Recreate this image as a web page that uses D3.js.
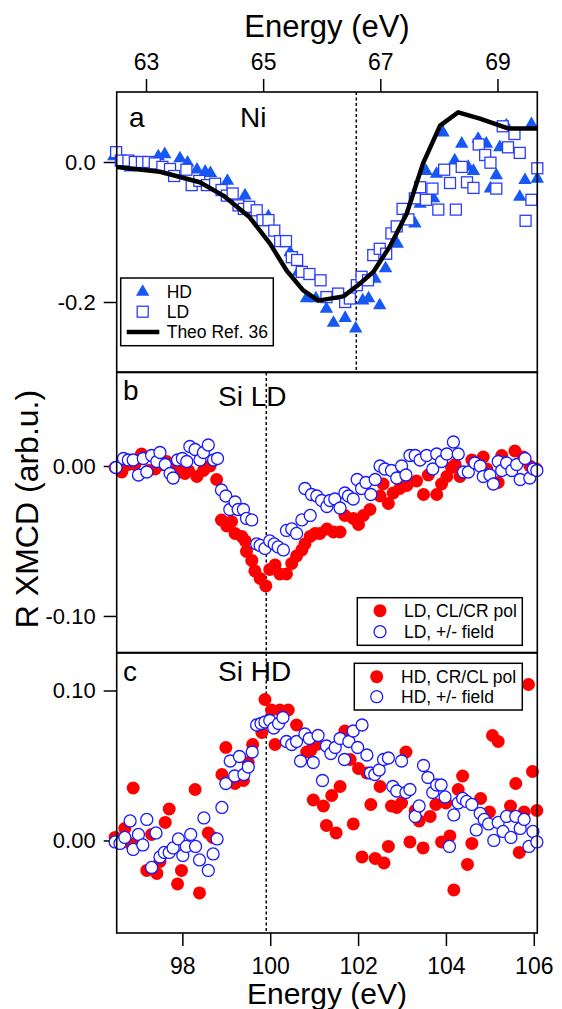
<!DOCTYPE html>
<html>
<head>
<meta charset="utf-8">
<script src="https://cdn.jsdelivr.net/npm/d3@7"></script>
<style>
body { margin: 0; background: #fff; }
</style>
</head>
<body>
<svg></svg>
<script>
// Ni M edge (panel a): [energy eV, R XMCD]
const niTheo = [[62.5,-0.007],[63.24,-0.014],[63.92,-0.029],[64.32,-0.048],[64.77,-0.079],[65.12,-0.117],
	[65.40,-0.155],[65.68,-0.183],[65.94,-0.198],[66.37,-0.192],[66.65,-0.174],[66.88,-0.157],[67.16,-0.121],
	[67.45,-0.074],[67.73,-0.002],[68.02,0.052],[68.33,0.071],[68.70,0.062],[69.18,0.048],[69.68,0.048]];

const niHD = [[62.45,0.008],[62.73,-0.008],[63.21,0.008],[63.32,0.011],[63.58,0.005],[63.71,-0.001],[63.87,-0.011],
	[64.01,-0.014],[64.10,-0.016],[64.39,-0.027],[64.69,-0.048],[65.09,-0.078],[65.46,-0.129],[65.60,-0.157],
	[65.74,-0.195],[65.90,-0.195],[66.08,-0.210],[66.20,-0.230],[66.40,-0.223],[66.58,-0.238],[66.70,-0.198],
	[66.80,-0.195],[66.91,-0.167],[66.99,-0.205],[67.09,-0.152],[67.29,-0.117],[67.59,-0.088],[67.68,-0.060],
	[67.78,-0.013],[67.91,-0.052],[67.96,-0.017],[68.07,0.042],[68.27,0.002],[68.39,0.026],[68.50,-0.007],
	[68.59,-0.013],[68.67,0.033],[68.81,0.026],[68.88,-0.038],[68.98,-0.019],[69.04,0.021],[69.15,0.052],
	[69.38,-0.050],[69.47,-0.026],[69.58,0.054],[69.68,-0.024]];

const niLD = [[62.49,0.014],[62.57,0.002],[62.70,0.002],[62.81,0.000],[62.93,0.000],[63.04,0.000],[63.15,-0.002],
	[63.28,-0.007],[63.41,-0.010],[63.48,-0.020],[63.69,-0.011],[63.78,-0.033],[63.91,-0.027],[64.04,-0.033],
	[64.18,-0.031],[64.29,-0.040],[64.38,-0.048],[64.48,-0.045],[64.58,-0.062],[64.67,-0.067],[64.76,-0.064],
	[64.89,-0.069],[64.99,-0.083],[65.09,-0.083],[65.19,-0.098],[65.29,-0.113],[65.39,-0.113],[65.49,-0.136],
	[65.58,-0.140],[65.66,-0.157],[65.79,-0.160],[65.98,-0.169],[66.08,-0.193],[66.28,-0.188],[66.40,-0.200],
	[66.48,-0.195],[66.60,-0.176],[66.68,-0.164],[66.79,-0.169],[66.88,-0.133],[66.99,-0.124],[67.10,-0.131],
	[67.19,-0.102],[67.28,-0.092],[67.38,-0.067],[67.48,-0.082],[67.59,-0.052],[67.68,-0.036],[67.78,-0.054],
	[67.89,-0.038],[67.99,-0.068],[68.09,-0.011],[68.19,-0.030],[68.29,-0.068],[68.39,-0.007],[68.48,-0.029],
	[68.59,-0.037],[68.68,0.025],[68.79,0.010],[68.88,-0.001],[68.98,-0.038],[69.09,0.051],[69.18,0.021],
	[69.29,0.040],[69.38,0.013],[69.48,-0.084],[69.58,-0.054],[69.68,-0.009]];

// Si L edge, LD (panel b)
const siLDpol = [[96.47,-0.001],[96.62,-0.004],[96.77,0.001],[96.92,0.001],[97.07,0.008],[97.23,-0.003],[97.38,-0.002],
	[97.53,0.001],[97.64,0.003],[97.76,-0.003],[97.95,-0.004],[98.06,-0.005],[98.14,-0.003],[98.33,-0.007],
	[98.48,-0.003],[98.63,0.000],[98.78,-0.009],[98.89,-0.036],[99.01,-0.040],[99.12,-0.037],[99.20,-0.045],
	[99.35,-0.047],[99.43,-0.050],[99.46,-0.057],[99.58,-0.063],[99.65,-0.070],[99.77,-0.075],[99.90,-0.080],
	[99.99,-0.069],[100.11,-0.066],[100.22,-0.072],[100.37,-0.072],[100.49,-0.065],[100.60,-0.060],[100.72,-0.056],
	[100.79,-0.052],[100.91,-0.047],[101.02,-0.045],[101.13,-0.045],[101.29,-0.042],[101.44,-0.044],[101.59,-0.044],
	[101.70,-0.033],[101.89,-0.035],[102.01,-0.039],[102.12,-0.033],[102.27,-0.029],[102.50,-0.020],[102.57,-0.012],
	[102.69,-0.025],[102.80,-0.018],[102.95,-0.015],[103.11,-0.013],[103.33,-0.010],[103.49,-0.019],[103.60,-0.006],
	[103.79,-0.019],[103.90,-0.012],[104.02,-0.007],[104.13,-0.001],[104.21,0.001],[104.32,-0.007],[104.59,0.004],
	[104.85,0.006],[104.93,-0.002],[105.19,-0.011],[105.27,0.007],[105.50,-0.002],[105.57,0.010],[105.76,0.006],
	[105.91,0.000],[106.06,-0.002]];

const siLDfield = [[96.49,-0.001],[96.66,0.005],[96.77,0.004],[96.88,0.004],[97.00,-0.006],[97.11,0.005],[97.19,-0.004],
	[97.30,0.007],[97.42,0.003],[97.49,0.009],[97.61,0.001],[97.72,-0.005],[97.79,-0.008],[97.89,0.004],[98.00,0.005],
	[98.10,0.003],[98.17,0.013],[98.29,0.011],[98.40,0.004],[98.48,0.009],[98.59,0.014],[98.71,0.004],[98.80,0.005],
	[98.89,-0.016],[98.99,-0.020],[99.08,-0.029],[99.20,-0.024],[99.27,-0.029],[99.39,-0.029],[99.46,-0.035],
	[99.58,-0.036],[99.69,-0.052],[99.77,-0.053],[99.88,-0.055],[99.99,-0.050],[100.09,-0.052],[100.18,-0.054],
	[100.30,-0.056],[100.37,-0.043],[100.49,-0.042],[100.60,-0.045],[100.72,-0.036],[100.79,-0.015],[100.91,-0.033],
	[100.94,-0.019],[101.06,-0.020],[101.17,-0.023],[101.29,-0.027],[101.36,-0.023],[101.47,-0.022],[101.59,-0.028],
	[101.70,-0.018],[101.78,-0.020],[101.89,-0.022],[101.98,-0.009],[102.08,-0.015],[102.18,-0.011],[102.29,-0.019],
	[102.39,-0.009],[102.50,0.000],[102.61,-0.002],[102.76,-0.003],[102.88,-0.008],[102.99,0.000],[103.09,-0.006],
	[103.18,0.007],[103.30,0.007],[103.41,0.004],[103.56,0.007],[103.70,-0.002],[103.79,0.008],[103.90,0.003],
	[104.02,0.008],[104.17,0.016],[104.28,0.008],[104.40,-0.004],[104.51,-0.004],[104.66,0.002],[104.78,0.000],
	[104.85,-0.007],[105.00,-0.006],[105.08,-0.012],[105.19,0.003],[105.27,-0.003],[105.38,0.002],[105.50,-0.003],
	[105.61,0.001],[105.69,-0.009],[105.80,0.005],[105.91,-0.008],[105.99,-0.002],[106.07,-0.003]];

// Si L edge, HD (panel c)
const siHDpol = [[96.47,0.002],[96.69,0.008],[96.81,-0.002],[96.88,0.035],[97.00,-0.001],[97.19,-0.020],[97.30,0.004],
	[97.42,-0.022],[97.49,-0.014],[97.61,0.012],[97.70,0.021],[97.89,-0.029],[97.98,-0.020],[98.29,0.034],[98.39,-0.035],
	[98.59,0.005],[98.69,0.002],[98.90,0.044],[98.99,0.062],[99.20,0.038],[99.39,0.040],[99.50,0.052],[99.60,0.064],
	[99.81,0.072],[99.88,0.094],[100.03,0.087],[100.11,0.064],[100.22,0.087],[100.41,0.087],[100.60,0.077],
	[100.83,0.059],[100.92,0.060],[100.98,0.027],[101.06,0.064],[101.21,0.023],[101.28,0.010],[101.40,0.030],
	[101.50,0.005],[101.59,0.036],[101.70,0.073],[101.82,0.054],[101.89,0.011],[102.01,0.048],[102.09,-0.011],
	[102.20,0.045],[102.29,0.024],[102.39,-0.012],[102.50,0.036],[102.59,-0.015],[102.69,-0.004],[102.76,0.023],
	[102.88,0.022],[102.99,0.025],[103.09,0.059],[103.18,-0.001],[103.30,0.020],[103.39,0.013],[103.48,-0.005],
	[103.64,0.016],[103.77,0.024],[103.90,-0.001],[104.00,0.025],[104.09,0.003],[104.18,-0.033],[104.28,0.034],
	[104.38,0.043],[104.49,-0.016],[104.59,-0.002],[104.79,0.028],[104.99,0.019],[105.06,0.070],[105.19,0.066],
	[105.47,0.023],[105.59,0.038],[105.67,-0.008],[105.78,0.019],[105.88,0.104],[105.97,0.046],[106.07,0.020]];

const siHDfield = [[96.47,-0.001],[96.58,-0.002],[96.69,0.002],[96.81,0.013],[96.88,-0.006],[97.00,0.004],[97.10,-0.003],
	[97.19,0.014],[97.30,-0.018],[97.40,0.005],[97.49,-0.011],[97.59,-0.008],[97.70,-0.008],[97.79,-0.005],[97.91,0.001],
	[98.01,-0.010],[98.09,-0.004],[98.19,0.004],[98.30,-0.004],[98.39,-0.013],[98.49,0.015],[98.59,-0.020],[98.70,-0.009],
	[98.79,0.001],[98.90,0.022],[98.99,0.038],[99.09,0.053],[99.19,0.043],[99.30,0.056],[99.40,0.044],[99.50,0.049],
	[99.59,0.059],[99.69,0.077],[99.79,0.078],[99.88,0.079],[99.99,0.080],[100.08,0.075],[100.19,0.078],[100.29,0.082],
	[100.37,0.066],[100.49,0.064],[100.60,0.066],[100.69,0.053],[100.79,0.071],[100.89,0.068],[100.98,0.052],
	[101.09,0.070],[101.19,0.040],[101.28,0.063],[101.38,0.058],[101.48,0.062],[101.59,0.068],[101.69,0.054],
	[101.79,0.066],[101.89,0.073],[101.99,0.062],[102.09,0.077],[102.20,0.057],[102.28,0.045],[102.38,0.044],
	[102.48,0.047],[102.58,0.054],[102.69,0.055],[102.79,0.036],[102.88,0.033],[102.99,0.053],[103.09,0.032],
	[103.18,0.034],[103.30,0.016],[103.39,0.023],[103.49,0.050],[103.59,0.042],[103.70,0.032],[103.79,0.037],
	[103.89,0.037],[103.98,0.029],[104.08,-0.004],[104.18,0.017],[104.28,0.025],[104.38,0.028],[104.47,0.026],
	[104.59,0.024],[104.69,0.007],[104.78,0.018],[104.87,0.014],[104.97,0.011],[105.09,0.000],[105.19,0.012],
	[105.30,0.006],[105.38,0.016],[105.48,0.002],[105.59,0.016],[105.69,0.008],[105.78,0.014],[105.89,-0.004],
	[105.98,0.006],[106.07,-0.001]];

const topTicks = [63, 65, 67, 69],
	bottomTicks = [98, 100, 102, 104, 106],
	yTicksA = [0, -0.2],
	yTicksB = [0, -0.1],
	yTicksC = [0.1, 0];

const niEdge = 66.59, siEdge = 99.91;

const font = '"Liberation Sans", Arial, Helvetica, sans-serif';
const blueTri = '#1558f5', blueSq = '#2a3dff', blueCirc = '#1a1aff', red = '#ff0000';

const svg = d3.select('svg')
	.attr('width', 562)
	.attr('height', 1009)
	.style('font-family', font);

const left = 116.7, right = 537.3;
const tops = [92, 372.5, 653], panelH = 280;

const xNi = d3.scaleLinear().domain([62.5, 69.68]).range([left, right]);
const xSi = d3.scaleLinear().domain([96.505, 106.08]).range([left, right]);
const yA = d3.scaleLinear().domain([-0.3, 0.1]).range([372, 92]);
const yB = d3.scaleLinear().domain([-0.1247, 0.062]).range([653, 373]);
const yC = d3.scaleLinear().domain([-0.0617, 0.125]).range([933, 653]);

const styleAxis = (g, size) => {
	g.select('.domain').remove();
	g.attr('font-family', font).attr('font-size', size);
	g.selectAll('.tick line').attr('stroke', '#000').attr('stroke-width', 1.5);
	g.selectAll('.tick text').attr('fill', '#000');
};

// y axes
[[yA, yTicksA, 1], [yB, yTicksB, 2], [yC, yTicksC, 2]].forEach(([y, ticks, dec]) => {
	svg.append('g')
		.attr('transform', `translate(${left},0)`)
		.call(d3.axisLeft(y).tickValues(ticks).tickSize(13).tickPadding(8)
			.tickFormat(d => d.toFixed(dec)))
		.call(g => styleAxis(g, 22));
});

// top axis (Ni)
svg.append('g')
	.attr('transform', `translate(0,${tops[0]})`)
	.call(d3.axisTop(xNi).tickValues(topTicks).tickSize(13).tickPadding(9))
	.call(g => styleAxis(g, 23));

// bottom axis (Si)
svg.append('g')
	.attr('transform', `translate(0,933)`)
	.call(d3.axisBottom(xSi).tickValues(bottomTicks).tickSize(13).tickPadding(12))
	.call(g => styleAxis(g, 23));

// axis titles
svg.append('text')
	.attr('x', (left + right) / 2).attr('y', 37)
	.attr('text-anchor', 'middle').attr('font-size', 31)
	.text('Energy (eV)');

svg.append('text')
	.attr('x', (left + right) / 2).attr('y', 1004)
	.attr('text-anchor', 'middle').attr('font-size', 30)
	.text('Energy (eV)');

svg.append('text')
	.attr('transform', 'translate(38,509) rotate(-90)')
	.attr('text-anchor', 'middle').attr('font-size', 32)
	.text('R XMCD (arb.u.)');

// dashed edge markers
svg.append('line')
	.attr('x1', xNi(niEdge)).attr('x2', xNi(niEdge))
	.attr('y1', tops[0]).attr('y2', tops[0] + panelH)
	.attr('stroke', '#000').attr('stroke-width', 1.5).attr('stroke-dasharray', '3,2.5');

svg.append('line')
	.attr('x1', xSi(siEdge)).attr('x2', xSi(siEdge))
	.attr('y1', tops[1]).attr('y2', 933)
	.attr('stroke', '#000').attr('stroke-width', 1.5).attr('stroke-dasharray', '3,2.5');

// panel a
const triangle = d3.symbol(d3.symbolTriangle, 78);

svg.append('g').selectAll('path')
	.data(niHD)
	.enter().append('path')
	.attr('d', triangle)
	.attr('transform', d => `translate(${xNi(d[0])},${yA(d[1])})`)
	.attr('fill', blueTri);

svg.append('g').selectAll('rect')
	.data(niLD)
	.enter().append('rect')
	.attr('x', d => xNi(d[0]) - 5.5)
	.attr('y', d => yA(d[1]) - 5.5)
	.attr('width', 11).attr('height', 11)
	.attr('fill', '#fff')
	.attr('stroke', blueSq).attr('stroke-width', 1.3);

const lineGenerator = d3.line()
	.x(d => xNi(d[0]))
	.y(d => yA(d[1]));

svg.append('path')
	.attr('d', lineGenerator(niTheo))
	.attr('fill', 'none')
	.attr('stroke', '#000')
	.attr('stroke-width', 4.5)
	.attr('stroke-linejoin', 'round');

// panels b and c
const drawCircles = (data, y, filled) => {
	svg.append('g').selectAll('circle')
		.data(data)
		.enter().append('circle')
		.attr('cx', d => xSi(d[0]))
		.attr('cy', d => y(d[1]))
		.attr('r', filled ? 6.5 : 6)
		.attr('fill', filled ? red : '#fff')
		.attr('stroke', filled ? 'none' : blueCirc)
		.attr('stroke-width', 1.3);
};

drawCircles(siLDpol, yB, true);
drawCircles(siLDfield, yB, false);
drawCircles(siHDpol, yC, true);
drawCircles(siHDfield, yC, false);

// frames
tops.forEach(t => {
	svg.append('rect')
		.attr('x', left).attr('y', t)
		.attr('width', right - left).attr('height', panelH)
		.attr('fill', 'none')
		.attr('stroke', '#000').attr('stroke-width', 1.6);
});

// panel labels
const labels = [
	['a', 129, 127], ['Ni', 240, 127],
	['b', 123, 400], ['Si LD', 218, 406],
	['c', 123, 681], ['Si HD', 218, 681]
];
svg.append('g').selectAll('text')
	.data(labels)
	.enter().append('text')
	.attr('x', d => d[1])
	.attr('y', d => d[2])
	.attr('font-size', 28)
	.text(d => d[0]);

// legends
const legendBox = (x, y, w, h) => svg.append('rect')
	.attr('x', x).attr('y', y).attr('width', w).attr('height', h)
	.attr('fill', '#fff').attr('stroke', '#000').attr('stroke-width', 1.5);

const legendText = (x, y, s) => svg.append('text')
	.attr('x', x).attr('y', y).attr('dy', '0.35em')
	.attr('font-size', 17.5).text(s);

legendBox(120.7, 278, 152.6, 67.7);
svg.append('path').attr('d', triangle)
	.attr('transform', 'translate(142.7,292)').attr('fill', blueTri);
legendText(166.7, 291.7, 'HD');
svg.append('rect').attr('x', 137.2).attr('y', 306.2).attr('width', 11).attr('height', 11)
	.attr('fill', '#fff').attr('stroke', blueSq).attr('stroke-width', 1.3);
legendText(166.7, 311.7, 'LD');
svg.append('line').attr('x1', 126.7).attr('x2', 159.3).attr('y1', 332).attr('y2', 332)
	.attr('stroke', '#000').attr('stroke-width', 4.5);
legendText(166.7, 332, 'Theo Ref. 36');

legendBox(357.3, 597.7, 165, 47.6);
svg.append('circle').attr('cx', 380).attr('cy', 610.7).attr('r', 6.5).attr('fill', red);
legendText(404, 610.7, 'LD, CL/CR pol');
svg.append('circle').attr('cx', 380).attr('cy', 631.7).attr('r', 6)
	.attr('fill', '#fff').attr('stroke', blueCirc).attr('stroke-width', 1.3);
legendText(404, 631.7, 'LD, +/- field');

legendBox(354.3, 663.3, 168, 46.7);
svg.append('circle').attr('cx', 376.7).attr('cy', 676.7).attr('r', 6.5).attr('fill', red);
legendText(401, 676.7, 'HD, CR/CL pol');
svg.append('circle').attr('cx', 376.7).attr('cy', 696.7).attr('r', 6)
	.attr('fill', '#fff').attr('stroke', blueCirc).attr('stroke-width', 1.3);
legendText(401, 696.7, 'HD, +/- field');
</script>
</body>
</html>
